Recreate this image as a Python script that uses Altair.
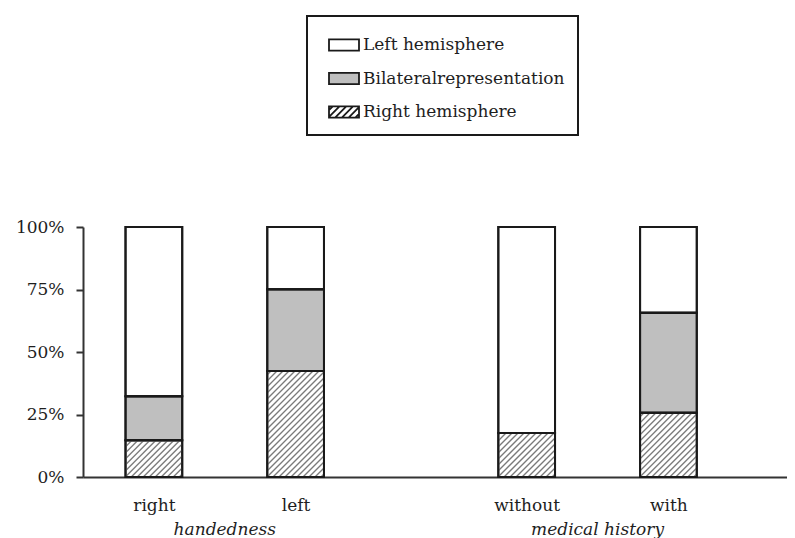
import altair as alt
import pandas as pd
import numpy as np

# ---------------- data ----------------
categories = ["right", "left", "without", "with"]
groups = ["handedness", "handedness", "medical history", "medical history"]
series = ["Left hemisphere", "Bilateralrepresentation", "Right hemisphere"]
right_hemisphere = [14.7, 42.4, 17.6, 25.7]
bilateral = [17.6, 32.7, 0.0, 40.0]
left_hemisphere = [67.7, 24.9, 82.4, 34.3]
y_ticks = [0, 25, 50, 75, 100]

# ---------------- layout / style ----------------
W, H = 704, 250
PX_PER_UNIT = 141.75
BAR_W = 0.4
GROUP_GAP = 1.63
X_MIN = -0.5
X_MAX = X_MIN + W / PX_PER_UNIT
FONT = "DejaVu Serif"
HATCH_STEP = 6.0
INK = "#1a1a1a"
TXT = "#1e1e1e"

# bar positions: step 1 within a group, larger gap between groups
positions = []
for i, g in enumerate(groups):
    if i == 0:
        positions.append(0.0)
    else:
        positions.append(round(positions[-1] + (1.0 if g == groups[i - 1] else GROUP_GAP), 4))

# stacked segments (bottom to top: right, bilateral, left)
stack = [("Right hemisphere", right_hemisphere),
         ("Bilateralrepresentation", bilateral),
         ("Left hemisphere", left_hemisphere)]
rows = []
for i, cat in enumerate(categories):
    base = 0.0
    for name, vals in stack:
        v = vals[i]
        rows.append(dict(category=cat, series=name, pos=positions[i],
                         x0=positions[i] - BAR_W / 2, x1=positions[i] + BAR_W / 2,
                         y0=base, y1=base + v, ymid=base + v / 2))
        base += v
seg = pd.DataFrame(rows)

# hatch lines for the "Right hemisphere" segments, derived from segment extents
pxx = W / (X_MAX - X_MIN)
pxy = H / 100.0
hatch_rows = []
for _, r in seg[seg.series == "Right hemisphere"].iterrows():
    w = (r.x1 - r.x0) * pxx
    h = (r.y1 - r.y0) * pxy
    c = -w + HATCH_STEP / 2
    while c < h:
        u0 = max(0.0, -c)
        u1 = min(w, h - c)
        if u1 > u0:
            hatch_rows.append(dict(hx=r.x0 + u0 / pxx, hy=r.y0 + (u0 + c) / pxy,
                                   hx2=r.x0 + u1 / pxx, hy2=r.y0 + (u1 + c) / pxy))
        c += HATCH_STEP
hatch = pd.DataFrame(hatch_rows)

# legend symbol paths (wide rectangles, one hatched)
RECT = "M-1,-0.37H1V0.37H-1Z"
parts = [RECT]
xb = -1.74 + 0.25
while xb < 1.0:
    x_start, y_start = xb, 0.37
    x_end, y_end = xb + 0.74, -0.37
    if x_start < -1:
        y_start = 0.37 - (-1 - x_start)
        x_start = -1
    if x_end > 1:
        y_end = -0.37 + (x_end - 1)
        x_end = 1
    if x_end > x_start:
        parts.append(f"M{x_start:.3f},{y_start:.3f}L{x_end:.3f},{y_end:.3f}")
    xb += 0.45
HATCH_PATH = " ".join(parts)

grp = pd.DataFrame({"group": groups, "pos": positions}).groupby("group", sort=False)["pos"].mean().reset_index()

# ---------------- scales / axes ----------------
x_scale = alt.Scale(domain=[X_MIN, X_MAX], nice=False, zero=False)
y_scale = alt.Scale(domain=[0, 100], nice=False)
fill_scale = alt.Scale(domain=series, range=["#ffffff", "#bfbfbf", "#ffffff"])
stroke_scale = alt.Scale(domain=series, range=[INK, INK, INK])
shape_scale = alt.Scale(domain=series, range=[RECT, RECT, HATCH_PATH])

legend = alt.Legend(title=None, orient="none", legendX=224, legendY=-211,
                    symbolStrokeColor=INK, symbolStrokeWidth=1.8)

pos_js = "[" + ",".join(str(p) for p in positions) + "]"
cat_js = "[" + ",".join("'" + c + "'" for c in categories) + "]"
x_axis = alt.Axis(values=positions, labelExpr=f"{cat_js}[indexof({pos_js}, datum.value)]",
                  ticks=False, labelPadding=20, title=None, grid=False, labelFlush=False)
y_axis = alt.Axis(values=y_ticks, labelExpr="datum.value + '%'", tickSize=7,
                  labelPadding=12, title=None, grid=False)

# ---------------- layers ----------------
points = alt.Chart(seg).transform_filter("datum.y1 > datum.y0").mark_point(
    filled=True, size=4, opacity=1, strokeWidth=1.8).encode(
    x=alt.X("pos:Q", scale=x_scale, axis=x_axis),
    y=alt.Y("ymid:Q", scale=y_scale, axis=y_axis),
    fill=alt.Fill("series:N", scale=fill_scale, legend=legend),
    stroke=alt.Stroke("series:N", scale=stroke_scale, legend=legend),
    shape=alt.Shape("series:N", scale=shape_scale, legend=legend),
)

bars = alt.Chart(seg).mark_bar(strokeWidth=2).encode(
    x=alt.X("x0:Q", scale=x_scale, axis=x_axis),
    x2="x1:Q",
    y=alt.Y("y0:Q", scale=y_scale, axis=y_axis),
    y2="y1:Q",
    fill=alt.Fill("series:N", scale=fill_scale, legend=legend),
    stroke=alt.Stroke("series:N", scale=stroke_scale, legend=legend),
)

hatch_layer = alt.Chart(hatch).mark_rule(color="#7a7a7a", strokeWidth=1.3).encode(
    x=alt.X("hx:Q", scale=x_scale, axis=x_axis),
    x2="hx2:Q",
    y=alt.Y("hy:Q", scale=y_scale, axis=y_axis),
    y2="hy2:Q",
)

outline = alt.Chart(seg).mark_bar(fillOpacity=0, stroke=INK, strokeWidth=2).encode(
    x=alt.X("x0:Q", scale=x_scale, axis=x_axis),
    x2="x1:Q",
    y=alt.Y("y0:Q", scale=y_scale, axis=y_axis),
    y2="y1:Q",
)

group_text = alt.Chart(grp).mark_text(font=FONT, fontStyle="italic", fontSize=17,
                                      baseline="alphabetic", color=TXT).encode(
    x=alt.X("pos:Q", scale=x_scale, axis=x_axis),
    y=alt.value(H + 58),
    text="group:N",
)

chart = alt.layer(points, bars, hatch_layer, outline, group_text).properties(
    width=W, height=H,
    padding={"left": 7, "top": 7, "right": 0, "bottom": 0},
    background="white",
).configure_view(stroke="transparent").configure_axis(
    labelFont=FONT, labelFontSize=17, labelColor=TXT,
    domainColor="#333333", domainWidth=2, tickColor="#333333", tickWidth=2,
).configure_legend(
    padding=13, strokeColor=INK, strokeWidth=2,
    symbolSize=900, symbolStrokeColor=INK, symbolStrokeWidth=1.8,
    symbolOffset=8, labelOffset=3, rowPadding=7.5,
    labelFont=FONT, labelFontSize=17, labelColor=TXT, labelLimit=400,
)

chart.save("out.html", embed_options={"renderer": "svg", "actions": False})
